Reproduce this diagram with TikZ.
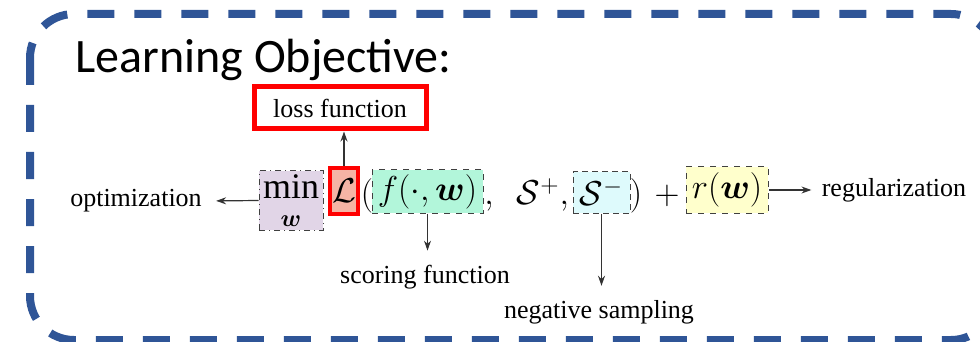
\documentclass[tikz,border=0pt]{standalone}
\usepackage{amsmath, amssymb, xcolor, fontspec, tikz}
\usetikzlibrary{arrows.meta, positioning}
\setmainfont{Liberation Serif}
\newfontfamily\lblfont{Liberation Serif}
\newfontfamily\headfont{Carlito}
\definecolor{frameblue}{RGB}{47,85,151}
\definecolor{minpurple}{RGB}{225,213,231}
\definecolor{lossred}{RGB}{245,180,165}
\definecolor{scoregreen}{RGB}{178,246,218}
\definecolor{negcyan}{RGB}{222,250,252}
\definecolor{regyellow}{RGB}{255,255,204}
\tikzset{
  term/.style = {draw=black!75, line width=0.5pt, inner sep=1pt, font=\fontsize{18}{20}\selectfont},
  plain/.style = {anchor=base, inner sep=0pt, font=\fontsize{18}{20}\selectfont},
  lbl/.style = {inner sep=2pt, font=\lblfont\fontsize{13}{15}\selectfont},
  arr/.style = {-{Stealth[length=5pt, width=3.5pt]}, draw=black!80, line width=0.6pt}
}

\begin{document}
\begin{tikzpicture}[x=0.5pt, y=-0.5pt]
\useasboundingbox (0,0) rectangle (980,342);
% frame
\draw[frameblue, line width=4pt, dash pattern=on 13.5pt off 10pt, rounded corners=22pt] (30,14) rectangle (995,340);
\node[anchor=base west, inner sep=0pt, font=\headfont\fontsize{24}{29}\selectfont] (title) at (75,73) {Learning Objective:};

% Objective terms
\node[term, dash dot, fill=minpurple, minimum width=32pt, minimum height=29.5pt, align=center] (tmin) at (291,200.5) {$\mathrm{min}$\\[-6pt]$\scriptstyle\boldsymbol{w}$};
\node[draw=red, line width=2pt, fill=lossred, minimum width=14pt, minimum height=23pt, inner sep=0pt, font=\fontsize{18}{20}\selectfont] (tloss) at (344,191) {$\mathcal{L}$};
\node[plain] (lpar) at (367,205) {$($};
\node[term, dashed, fill=scoregreen, minimum width=55.5pt, minimum height=21.5pt] (tscore) at (427.5,191.5) {$f(\cdot,\boldsymbol{w})$};
\node[plain] (comma) at (489,205) {$,$};
\node[plain] (spos) at (543,205) {$\mathcal{S}^{+},$};
\node[term, densely dashed, fill=negcyan, minimum width=28.5pt, minimum height=20.5pt] (tneg) at (601.5,192.5) {$\mathcal{S}^{-}$};
\node[plain] (rpar) at (636,205) {$)$};
\node[plain] (plus) at (667,205) {$+$};
\node[term, dashed, fill=regyellow, minimum width=41pt, minimum height=23pt] (treg) at (727,190) {$r(\boldsymbol{w})$};

% Labels
\node[draw=red, line width=2.5pt, minimum width=86pt, minimum height=21pt, lbl] (loss) at (340,108) {loss function};
\node[lbl] (opt) at (136,201) {optimization};
\node[lbl] (score) at (425,277) {scoring function};
\node[lbl] (negs) at (599,312) {negative sampling};
\node[lbl] (reg) at (894,190) {regularization};

% ----- ARROWS -----
\draw[arr, shorten >=5pt] (tmin.west) -- (opt.east);
\draw[arr] (tloss.north) -- (tloss.north |- loss.south);
\draw[arr, shorten >=5pt] (tscore.south) -- (tscore.south |- score.north);
\draw[arr, shorten >=5pt] (tneg.south) -- (tneg.south |- negs.north);
\draw[arr, shorten >=3pt] (treg.east) -- (reg.west);

\end{tikzpicture}
\end{document}
